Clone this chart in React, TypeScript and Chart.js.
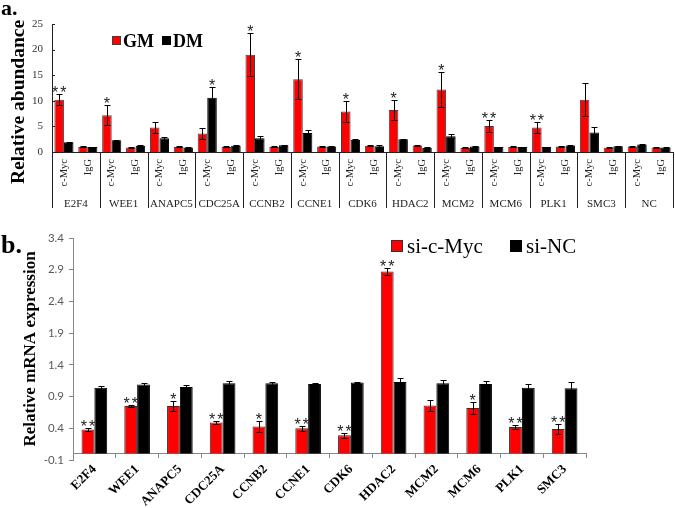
import React, { useEffect, useRef } from 'react';
import { Chart, registerables } from 'chart.js';

Chart.register(...registerables);

const SERIF = "'Liberation Serif', 'Times New Roman', Times, serif";
const SANS = "'Liberation Sans', Arial, sans-serif";

// ---------- Panel a data ----------
const genesA = ['E2F4', 'WEE1', 'ANAPC5', 'CDC25A', 'CCNB2', 'CCNE1', 'CDK6', 'HDAC2', 'MCM2', 'MCM6', 'PLK1', 'SMC3', 'NC'];
const subLabels = ['c-Myc', 'IgG'];
const yTicksA = [0, 5, 10, 15, 20, 25];
// order: for each gene -> c-Myc, IgG
const gmValues = [10.2, 1.0, 7.2, 0.9, 4.8, 1.0, 3.6, 1.0, 19.0, 1.0, 14.2, 1.05, 7.9, 1.2, 8.2, 1.25, 12.2, 0.8, 5.1, 1.0, 4.8, 1.05, 10.2, 0.85, 1.05, 0.9];
const gmErrors = [1.1, 0.1, 1.9, 0.05, 1.0, 0.1, 1.0, 0.1, 4.2, 0.1, 3.9, 0.1, 2.0, 0.1, 2.0, 0.1, 3.5, 0.1, 1.1, 0.1, 1.1, 0.1, 3.2, 0.1, 0.1, 0.1];
const dmValues = [1.9, 1.0, 2.3, 1.2, 2.7, 0.9, 10.6, 1.2, 2.7, 1.3, 3.7, 1.05, 2.4, 1.1, 2.5, 0.85, 3.1, 1.05, 1.0, 1.0, 1.0, 1.25, 3.8, 1.1, 1.45, 0.9];
const dmErrors = [0.1, 0.05, 0.1, 0.1, 0.3, 0.1, 2.0, 0.1, 0.5, 0.1, 0.5, 0.1, 0.1, 0.2, 0.1, 0.1, 0.4, 0.1, 0.05, 0.05, 0.05, 0.1, 1.0, 0.1, 0.1, 0.05];
const gmStars = ['**', '', '*', '', '', '', '', '', '*', '', '*', '', '*', '', '*', '', '*', '', '**', '', '**', '', '', '', '', ''];
const dmStars = ['', '', '', '', '', '', '*', '', '', '', '', '', '', '', '', '', '', '', '', '', '', '', '', '', '', ''];

// ---------- Panel b data ----------
const genesB = ['E2F4', 'WEE1', 'ANAPC5', 'CDC25A', 'CCNB2', 'CCNE1', 'CDK6', 'HDAC2', 'MCM2', 'MCM6', 'PLK1', 'SMC3'];
const yTicksB = [-0.1, 0.4, 0.9, 1.4, 1.9, 2.4, 2.9, 3.4];
const siMycValues = [0.38, 0.75, 0.75, 0.49, 0.43, 0.40, 0.29, 2.87, 0.76, 0.72, 0.42, 0.39];
const siMycErrors = [0.02, 0.02, 0.08, 0.02, 0.09, 0.04, 0.04, 0.05, 0.09, 0.10, 0.03, 0.08];
const siNCValues = [1.04, 1.09, 1.05, 1.11, 1.11, 1.10, 1.12, 1.13, 1.11, 1.10, 1.04, 1.03];
const siNCErrors = [0.02, 0.02, 0.03, 0.03, 0.02, 0.01, 0.01, 0.07, 0.05, 0.05, 0.06, 0.10];
const siMycStars = ['**', '**', '*', '**', '*', '**', '**', '**', '', '*', '**', '**'];

// ---------- plugins ----------
const errorBarPlugin = {
  id: 'errorBars',
  afterDatasetsDraw(chart: any, _args: any, opts: any) {
    const ctx = chart.ctx;
    const ys = chart.scales.y;
    chart.data.datasets.forEach((ds: any, di: number) => {
      if (!ds.errors) return;
      const meta = chart.getDatasetMeta(di);
      ctx.save();
      ctx.strokeStyle = '#000';
      ctx.lineWidth = 1;
      meta.data.forEach((bar: any, i: number) => {
        const v = ds.data[i];
        const e = ds.errors[i];
        const x = Math.round(bar.x) + 0.5;
        const yt = Math.round(ys.getPixelForValue(v + e)) + 0.5;
        const yb = Math.round(ys.getPixelForValue(v - e)) + 0.5;
        const cw = opts.cap;
        ctx.beginPath();
        ctx.moveTo(x, yt); ctx.lineTo(x, yb);
        ctx.moveTo(x - cw, yt); ctx.lineTo(x + cw, yt);
        ctx.moveTo(x - cw, yb); ctx.lineTo(x + cw, yb);
        ctx.stroke();
        const s = ds.stars ? ds.stars[i] : '';
        if (s) {
          ctx.fillStyle = '#222';
          ctx.font = opts.starFont;
          (ctx as any).letterSpacing = opts.starSpacing;
          ctx.textAlign = 'center';
          ctx.textBaseline = 'alphabetic';
          ctx.fillText(s, bar.x + 1, yt + opts.starDy);
          (ctx as any).letterSpacing = '0px';
        }
      });
      ctx.restore();
    });
  },
};

const panelAPlugin = {
  id: 'panelA',
  afterDraw(chart: any) {
    const ctx = chart.ctx;
    const xs = chart.scales.x;
    const ys = chart.scales.y;
    ctx.save();
    // group separators
    ctx.strokeStyle = '#222';
    ctx.lineWidth = 1;
    const per = subLabels.length;
    for (let g = 0; g <= genesA.length; g++) {
      const px = Math.round(xs.getPixelForValue(g * per - 0.5)) + 0.5;
      ctx.beginPath();
      ctx.moveTo(px, xs.top);
      ctx.lineTo(px, xs.top + 56);
      ctx.stroke();
    }
    // gene labels
    ctx.fillStyle = '#222';
    ctx.font = `11px ${SERIF}`;
    ctx.textAlign = 'center';
    ctx.textBaseline = 'middle';
    genesA.forEach((name, g) => {
      ctx.fillText(name, xs.getPixelForValue(g * per + (per - 1) / 2), xs.top + 52);
    });
    // inner y ticks
    ys.ticks.forEach((t: any) => {
      const py = Math.round(ys.getPixelForValue(t.value)) + 0.5;
      ctx.beginPath();
      ctx.moveTo(ys.right, py);
      ctx.lineTo(ys.right + 3, py);
      ctx.stroke();
    });
    // y title
    ctx.save();
    ctx.translate(19, 102);
    ctx.rotate(-Math.PI / 2);
    ctx.fillStyle = '#000';
    ctx.font = `bold 19.5px ${SERIF}`;
    ctx.textAlign = 'center';
    ctx.textBaseline = 'middle';
    ctx.fillText('Relative abundance', 0, 0);
    ctx.restore();
    // panel label
    ctx.fillStyle = '#000';
    ctx.font = `bold 22px ${SERIF}`;
    ctx.textAlign = 'left';
    ctx.textBaseline = 'alphabetic';
    ctx.fillText('a.', 1, 15);
    // legend
    ctx.font = `bold 18px ${SERIF}`;
    ctx.textBaseline = 'middle';
    let lx = 112;
    const ly = 41;
    chart.data.datasets.forEach((ds: any) => {
      ctx.fillStyle = ds.backgroundColor;
      ctx.fillRect(lx, ly - 5, 9, 9);
      ctx.strokeStyle = ds.borderColor;
      ctx.strokeRect(lx + 0.5, ly - 4.5, 8, 8);
      ctx.fillStyle = '#000';
      ctx.fillText(ds.label, lx + 11, ly + 1);
      lx += 11 + ctx.measureText(ds.label).width + 8;
    });
    ctx.restore();
  },
};

const panelBPlugin = {
  id: 'panelB',
  afterDraw(chart: any) {
    const ctx = chart.ctx;
    ctx.save();
    ctx.fillStyle = '#000';
    ctx.font = `bold 26px ${SERIF}`;
    ctx.textAlign = 'left';
    ctx.textBaseline = 'alphabetic';
    ctx.fillText('b.', 1, 39);
    // legend
    ctx.font = `21px ${SERIF}`;
    ctx.textBaseline = 'middle';
    const pos = [391, 510];
    const ly = 32;
    chart.data.datasets.forEach((ds: any, i: number) => {
      const lx = pos[i];
      ctx.fillStyle = ds.backgroundColor;
      ctx.fillRect(lx, ly - 6, 12, 12);
      ctx.strokeStyle = ds.borderColor;
      ctx.strokeRect(lx + 0.5, ly - 5.5, 11, 11);
      ctx.fillStyle = '#000';
      ctx.fillText(ds.label, lx + 16, ly + 1);
    });
    ctx.restore();
  },
};

function configA(): any {
  return {
    type: 'bar',
    data: {
      labels: genesA.flatMap(() => subLabels),
      datasets: [
        { label: 'GM', data: gmValues, errors: gmErrors, stars: gmStars, backgroundColor: '#FF0000', borderColor: '#404040', borderWidth: 1, categoryPercentage: 0.8, barPercentage: 1.0 },
        { label: 'DM', data: dmValues, errors: dmErrors, stars: dmStars, backgroundColor: '#000000', borderColor: '#000000', borderWidth: 1, categoryPercentage: 0.8, barPercentage: 1.0 },
      ],
    },
    options: {
      responsive: false,
      maintainAspectRatio: false,
      animation: false,
      events: [],
      layout: { padding: { top: 24, right: 2, left: 0, bottom: 0 } },
      plugins: {
        legend: { display: false },
        tooltip: { enabled: false },
        errorBars: { cap: 3, starFont: `16px ${SANS}`, starSpacing: '2px', starDy: 3 },
      },
      scales: {
        x: {
          offset: true,
          grid: { display: false, drawTicks: false },
          border: { display: true, color: '#222', width: 1 },
          ticks: { autoSkip: false, minRotation: 90, maxRotation: 90, padding: 7, color: '#222', font: { family: SERIF, size: 10.5 } },
          afterFit: (s: any) => { s.height = 62; s.paddingLeft = 0; s.paddingRight = 0; },
        },
        y: {
          min: 0,
          max: 25,
          afterBuildTicks: (s: any) => { s.ticks = yTicksA.map((v) => ({ value: v })); },
          grid: { display: false, drawTicks: false },
          border: { display: true, color: '#222', width: 1 },
          ticks: { padding: 9, color: '#333', font: { family: SERIF, size: 11 } },
          afterFit: (s: any) => { s.width = 52; s.paddingTop = 0; s.paddingBottom = 0; },
        },
      },
    },
    plugins: [errorBarPlugin, panelAPlugin],
  };
}

function configB(): any {
  return {
    type: 'bar',
    data: {
      labels: genesB,
      datasets: [
        { label: 'si-c-Myc', data: siMycValues, errors: siMycErrors, stars: siMycStars, backgroundColor: '#FF0000', borderColor: '#333333', borderWidth: 1, categoryPercentage: 0.6, barPercentage: 1.0 },
        { label: 'si-NC', data: siNCValues, errors: siNCErrors, backgroundColor: '#000000', borderColor: '#000000', borderWidth: 1, categoryPercentage: 0.6, barPercentage: 1.0 },
      ],
    },
    options: {
      responsive: false,
      maintainAspectRatio: false,
      animation: false,
      events: [],
      layout: { padding: { top: 24, right: 89, left: 0, bottom: 48 } },
      plugins: {
        legend: { display: false },
        tooltip: { enabled: false },
        errorBars: { cap: 3, starFont: `16px ${SANS}`, starSpacing: '2px', starDy: 3 },
      },
      scales: {
        x: {
          position: { y: 0 },
          offset: true,
          grid: { display: true, drawOnChartArea: false, offset: true, drawTicks: true, tickLength: 4, color: '#868686' },
          border: { display: true, color: '#868686', width: 1 },
          ticks: { autoSkip: false, minRotation: 45, maxRotation: 45, padding: 4, color: '#000', font: { family: SERIF, size: 13, weight: 'bold' } },
          afterFit: (s: any) => { s.height = 0; s.paddingLeft = 0; s.paddingRight = 0; },
        },
        y: {
          min: -0.1,
          max: 3.4,
          afterBuildTicks: (s: any) => { s.ticks = yTicksB.map((v) => ({ value: v })); },
          grid: { display: true, drawOnChartArea: false, drawTicks: true, tickLength: 4, color: '#868686' },
          border: { display: true, color: '#868686', width: 1 },
          ticks: { padding: 5, color: '#595959', font: { family: "Lato, 'Noto Sans', sans-serif", size: 11.5 }, callback: (v: any) => Number(v).toFixed(1) },
          title: { display: true, text: 'Relative mRNA expression', color: '#000', font: { family: SERIF, size: 17, weight: 'bold' }, padding: { top: 20, bottom: 0 } },
          afterFit: (s: any) => { s.width = 73; s.paddingTop = 0; s.paddingBottom = 0; },
        },
      },
    },
    plugins: [errorBarPlugin, panelBPlugin],
  };
}

function ChartCanvas({ make, top, width, height }: { make: () => any; top: number; width: number; height: number }) {
  const ref = useRef<HTMLCanvasElement>(null);
  useEffect(() => {
    const chart = new Chart(ref.current as HTMLCanvasElement, make());
    return () => chart.destroy();
  }, []);
  return <canvas ref={ref} width={width} height={height} style={{ position: 'absolute', left: 0, top, width, height }} />;
}

export default function App() {
  return (
    <div style={{ position: 'absolute', left: 0, top: 0, width: 675, height: 508, background: '#fff' }}>
      <ChartCanvas make={configA} top={0} width={675} height={214} />
      <ChartCanvas make={configB} top={214} width={675} height={294} />
    </div>
  );
}
